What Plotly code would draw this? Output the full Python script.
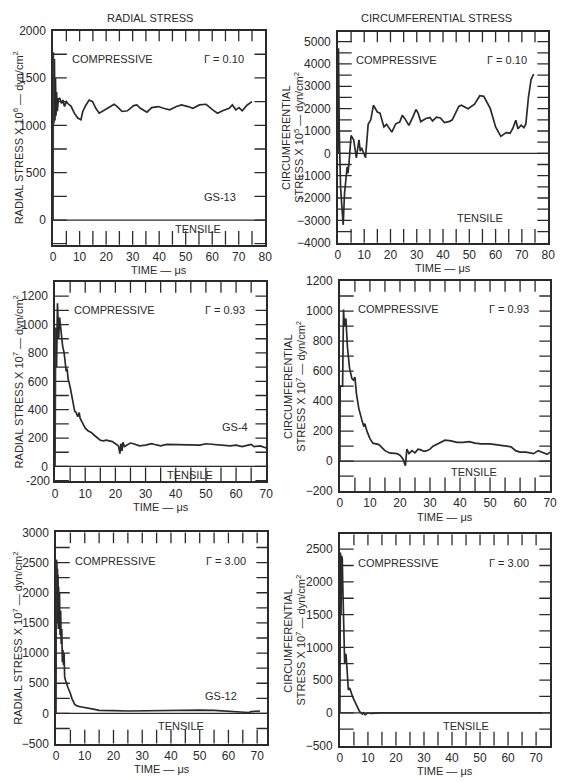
import math
import plotly.graph_objects as go

W, H = 563, 782

# ---- Radial stress, Gamma = 0.10 (GS-13), units 1e6 dyn/cm^2 ----
t_rad_010 = [0, 0.1, 0.3, 0.5, 0.7, 0.9, 1.1, 1.3, 1.6, 2.0, 2.5, 3.2, 3.7, 4.3, 5.0, 5.6, 6.3, 6.8, 8.0, 9.3, 10.5,
             11.2, 12.4, 13.6, 14.9, 16.1, 17.4, 18.6, 20.5, 23.0, 24.2, 26.0, 28.0, 30.4, 31.6, 32.9, 35.4,
             37.2, 39.7, 41.6, 44.0, 46.5, 48.4, 50.9, 52.7, 55.2, 57.7, 60.2, 62.0, 63.9, 66.4, 67.6, 68.9,
             70.1, 71.3, 73.2, 75.0]
s_rad_010 = [0, 1770, 1020, 1700, 1050, 1500, 1100, 1350, 1150, 1280, 1285, 1230, 1267, 1198, 1250, 1230, 1215, 1200,
             1128, 1076, 1059, 1146, 1215, 1267, 1250, 1180, 1128, 1146, 1180, 1222, 1198, 1146, 1153, 1208,
             1215, 1180, 1139, 1187, 1198, 1180, 1163, 1198, 1215, 1198, 1180, 1215, 1222, 1163, 1128, 1153,
             1180, 1215, 1163, 1187, 1153, 1215, 1250]

# ---- Circumferential stress, Gamma = 0.10, units 1e5 dyn/cm^2 ----
t_circ_010 = [0, 0.2, 0.5, 1.0, 1.5, 2.0, 2.5, 3.0, 3.5, 3.8, 4.2, 5.0, 6.0, 7.0, 8.0, 8.5, 9.0, 10.5, 11.5, 12.5,
              13.5, 15.0, 16.0, 17.5, 18.5, 20.5, 22.0, 23.5, 24.5, 25.5, 27.0, 28.5, 29.7, 30.5, 31.5, 33.5,
              35.0, 36.0, 37.5, 39.0, 40.5, 42.5, 43.5, 46.0, 47.0, 49.5, 52.0, 54.0, 55.5, 58.0, 60.0, 62.0,
              63.0, 64.0, 65.5, 66.5, 67.7, 68.5, 69.7, 70.8, 71.5, 72.5, 73.5, 74.5]
s_circ_010 = [0, 4700, 1000, -1500, -2400, -3200, -1800, -1000, -600, -900, -450, 800, 600, -200, 600, 100, 250,
              -200, 1300, 1500, 2150, 1850, 1800, 1180, 1300, 950, 1320, 1400, 1700, 1550, 1250, 1620, 1960,
              1800, 1420, 1560, 1600, 1450, 1620, 1580, 1380, 1430, 1500, 2100, 2150, 2000, 2200, 2580, 2550,
              2000, 1180, 760, 850, 930, 900, 1100, 1480, 1100, 1260, 1150, 1300, 2500, 3300, 3550]

# ---- Radial stress, Gamma = 0.93 (GS-4), units 1e7 dyn/cm^2 ----
t_rad_093 = [0, 0.2, 0.5, 0.8, 1.2, 1.5, 2.0, 2.5, 3.0, 3.5, 3.7, 4.0, 4.3, 5.0, 5.5, 6.0, 6.5, 7.0, 7.5, 8.0, 8.3,
             9.0, 10, 11, 12, 13, 14, 15, 16, 17, 18, 19, 20, 21, 21.5, 21.8, 22.2, 22.5, 23, 24, 25, 26, 27,
             28, 30, 32, 33, 35, 37, 40, 42, 45, 48, 50, 52, 55, 58, 60, 62, 64, 65, 66, 68, 70]
s_rad_093 = [0, 980, 700, 1150, 900, 1050, 950, 850, 800, 700, 670, 690, 620, 560, 500, 420, 390, 380, 350, 380,
             340, 310, 270, 250, 240, 220, 200, 185, 180, 185, 180, 175, 160, 145, 90, 160, 110, 170, 140, 150,
             165, 160, 150, 145, 150, 160, 155, 145, 155, 155, 150, 155, 150, 160, 155, 150, 145, 150, 140,
             150, 155, 140, 145, 130]

# ---- Circumferential stress, Gamma = 0.93, units 1e7 dyn/cm^2 ----
t_circ_093 = [0, 0.1, 0.9, 1.2, 1.5, 2.0, 2.5, 3.2, 4.0, 4.5, 5.0, 5.5, 6.3, 7.0, 7.5, 8.0, 8.3, 9.0, 10, 11, 12,
              13, 14, 15, 16.5, 18, 19, 20, 21, 21.8, 22.3, 23, 24, 25, 26, 27, 28, 29, 30, 31, 32, 33.5, 35,
              37, 39, 41, 43, 45, 47, 50, 52, 54, 56, 57, 58.5, 60, 62, 63.5, 64.5, 66, 67, 68, 69, 70]
s_circ_093 = [0, 500, 500, 1010, 900, 950, 760, 620, 550, 540, 560, 450, 350, 290, 260, 230, 250, 200, 150, 120,
              115, 110, 90, 70, 55, 55, 50, 40, 15, -30, 80, 50, 70, 55, 80, 75, 65, 70, 80, 100, 110, 130, 140,
              135, 125, 125, 130, 120, 115, 115, 110, 105, 100, 95, 70, 60, 60, 55, 50, 70, 60, 50, 45, 60]

# ---- Radial stress, Gamma = 3.00 (GS-12), units 1e7 dyn/cm^2 ----
t_rad_300 = [0, 0.1, 0.2, 0.3, 0.4, 0.5, 0.6, 0.7, 0.8, 0.9, 1.0, 1.2, 1.4, 1.6, 1.8, 2.0, 2.2, 2.4, 2.6, 2.8,
             3.0, 3.3, 3.8, 4.2, 5.0, 5.5, 6.5, 7.5, 8.5, 10, 11, 13, 15, 17, 20, 25, 30, 35, 40, 45, 50, 55,
             60, 65, 67, 68, 70, 71]
s_rad_300 = [0, 2550, 1600, 2500, 1700, 2400, 1500, 2300, 1400, 2100, 1500, 2000, 1300, 1700, 1150, 1400, 850,
             1050, 800, 1000, 600, 550, 450, 420, 330, 250, 150, 120, 110, 100, 90, 70, 50, 45, 45, 40, 45, 50,
             55, 60, 55, 50, 40, 30, 15, 30, 35, 40]

# ---- Circumferential stress, Gamma = 3.00, units 1e7 dyn/cm^2 ----
t_circ_300 = [0, 0.2, 0.4, 0.6, 0.7, 0.85, 1.0, 1.2, 1.4, 1.7, 2.0, 2.2, 2.5, 3.0, 3.5, 4.0, 4.5, 5.0, 6.0, 7.0,
              8.0, 8.5, 9.0, 10, 11, 15, 20, 30, 40, 50, 60, 70, 72]
s_circ_300 = [0, 2450, 1500, 2400, 1900, 2350, 2000, 1600, 1200, 750, 900, 880, 700, 350, 380, 300, 250, 200,
              100, 20, -20, 0, -30, 0, -10, 0, 0, 0, 0, 0, 0, 0, 0]

col_titles = ["RADIAL STRESS", "CIRCUMFERENTIAL STRESS"]
gammas = ["Γ = 0.10", "Γ = 0.93", "Γ = 3.00"]
specimens = ["GS-13", "GS-4", "GS-12"]
x_title = "TIME — μs"

FONT = "Liberation Sans, Arial, sans-serif"
INK = "#2a2a2a"

# panel frames in pixels: (left, right, top, bottom); tick steps (marked, labelled)
panels = [
    dict(t=t_rad_010, s=s_rad_010, box=(51, 267, 24, 242), xr=[0, 80], yr=[-260, 2000],
         xt=5, xl=10, yt=250, yl=500),
    dict(t=t_circ_010, s=s_circ_010, box=(341, 555, 25, 240), xr=[0, 80], yr=[-4000, 5450],
         xt=5, xl=10, yt=500, yl=1000),
    dict(t=t_rad_093, s=s_rad_093, box=(53, 268, 280, 483), xr=[0, 70], yr=[-105, 1300],
         xt=5, xl=10, yt=100, yl=200),
    dict(t=t_circ_093, s=s_circ_093, box=(343, 557, 279, 493), xr=[0, 70], yr=[-200, 1200],
         xt=5, xl=10, yt=100, yl=200),
    dict(t=t_rad_300, s=s_rad_300, box=(54, 269, 535, 750), xr=[0, 73.5], yr=[-500, 3000],
         xt=5, xl=10, yt=250, yl=500),
    dict(t=t_circ_300, s=s_circ_300, box=(343, 557, 537, 752), xr=[0, 75], yr=[-500, 2725],
         xt=5, xl=10, yt=250, yl=500),
]

y_titles = [
    "RADIAL STRESS X 10<sup>6</sup> — dyn/cm<sup>2</sup>",
    ("CIRCUMFERENTIAL", "STRESS X 10<sup>5</sup> — dyn/cm<sup>2</sup>"),
    "RADIAL STRESS X 10<sup>7</sup> — dyn/cm<sup>2</sup>",
    ("CIRCUMFERENTIAL", "STRESS X 10<sup>7</sup> — dyn/cm<sup>2</sup>"),
    "RADIAL STRESS X 10<sup>7</sup> — dyn/cm<sup>2</sup>",
    ("CIRCUMFERENTIAL", "STRESS X 10<sup>7</sup> — dyn/cm<sup>2</sup>"),
]

# inward tick lengths (px): bottom/left edges carry longer marks than top/right
TICK_LONG, TICK_SHORT = 14, 11

fig = go.Figure()
layout = dict(
    width=W, height=H, margin=dict(l=0, r=0, t=0, b=0),
    paper_bgcolor="white", plot_bgcolor="white", showlegend=False,
    font=dict(family=FONT, size=11, color=INK),
)
annotations = []
shapes = []


def ann(x, y, text, size=11, angle=0, xanchor="center", yanchor="middle"):
    annotations.append(dict(x=x / W, y=1 - y / H, xref="paper", yref="paper", text=text,
                            showarrow=False, textangle=angle, xanchor=xanchor, yanchor=yanchor,
                            font=dict(family=FONT, size=size, color=INK)))


def axis_style(label_step):
    return dict(
        showline=True, linecolor=INK, linewidth=1.6, mirror=True,
        tickmode="linear", tick0=0, dtick=label_step, ticks="",
        showgrid=False, zeroline=False,
        tickfont=dict(family=FONT, size=12, color=INK),
    )


def interior(lo, hi, step):
    v = math.ceil(lo / step) * step
    out = []
    while v < hi - 1e-9:
        if v > lo + 1e-9:
            out.append(v)
        v += step
    return out


def tick_marks(xref, yref, p):
    l, r, t, b = p["box"]
    pw, ph = r - l, b - t
    line = dict(color=INK, width=1.3)
    for v in interior(p["xr"][0], p["xr"][1], p["xt"]):
        shapes.append(dict(type="line", xref=xref, yref=f"{yref} domain", x0=v, x1=v,
                           y0=0, y1=TICK_LONG / ph, line=line))
        shapes.append(dict(type="line", xref=xref, yref=f"{yref} domain", x0=v, x1=v,
                           y0=1 - TICK_SHORT / ph, y1=1, line=line))
    for v in interior(p["yr"][0], p["yr"][1], p["yt"]):
        shapes.append(dict(type="line", xref=f"{xref} domain", yref=yref, x0=0, x1=TICK_LONG / pw,
                           y0=v, y1=v, line=line))
        shapes.append(dict(type="line", xref=f"{xref} domain", yref=yref, x0=1 - TICK_SHORT / pw, x1=1,
                           y0=v, y1=v, line=line))


for i, p in enumerate(panels):
    n = i + 1
    xa = "xaxis" if n == 1 else f"xaxis{n}"
    ya = "yaxis" if n == 1 else f"yaxis{n}"
    xref = "x" if n == 1 else f"x{n}"
    yref = "y" if n == 1 else f"y{n}"
    l, r, t, b = p["box"]
    layout[xa] = dict(axis_style(p["xl"]), domain=[l / W, r / W], range=p["xr"], anchor=yref)
    layout[ya] = dict(axis_style(p["yl"]), domain=[1 - b / H, 1 - t / H], range=p["yr"],
                      anchor=xref, ticklabelstandoff=3)
    fig.add_trace(go.Scatter(x=p["t"], y=p["s"], mode="lines", xaxis=xref, yaxis=yref,
                             line=dict(color=INK, width=1.7), hoverinfo="skip"))
    # zero stress line separating compressive / tensile regions
    shapes.append(dict(type="line", xref=xref, yref=yref, x0=p["xr"][0], x1=p["xr"][1], y0=0, y1=0,
                       line=dict(color=INK, width=1.3)))
    tick_marks(xref, yref, p)

    row, col = divmod(i, 2)
    cx = (l + r) / 2
    ann(l + (r - l) * 0.28, t + 29, "COMPRESSIVE")
    ann(r - 42, t + 29, gammas[row])
    tens = {0: (199, 226), 1: (486, 215), 2: (190, 477), 3: (480, 473), 4: (181, 732), 5: (471, 732)}[i]
    ann(tens[0], tens[1], "TENSILE")
    if col == 0:
        spec_pos = {0: (221, 193), 2: (236, 428), 4: (222, 702)}[i]
        ann(spec_pos[0], spec_pos[1], specimens[row])
    ann(cx, b + 26, x_title)
    yt = y_titles[i]
    cy = (t + b) / 2
    if col == 0:
        ann(15, cy, yt, angle=-90)
    else:
        ann(l - 53, cy, yt[0], angle=-90)
        ann(l - 40, cy, yt[1], angle=-90)

# lowest stress label on the GS-4 radial panel sits at the frame corner
ann(50, 483, "-200", size=12, xanchor="right")

ann(150, 11, col_titles[0])
ann(441, 11, col_titles[1])

layout["annotations"] = annotations
layout["shapes"] = shapes
fig.update_layout(**layout)
fig.write_html("out.html")
